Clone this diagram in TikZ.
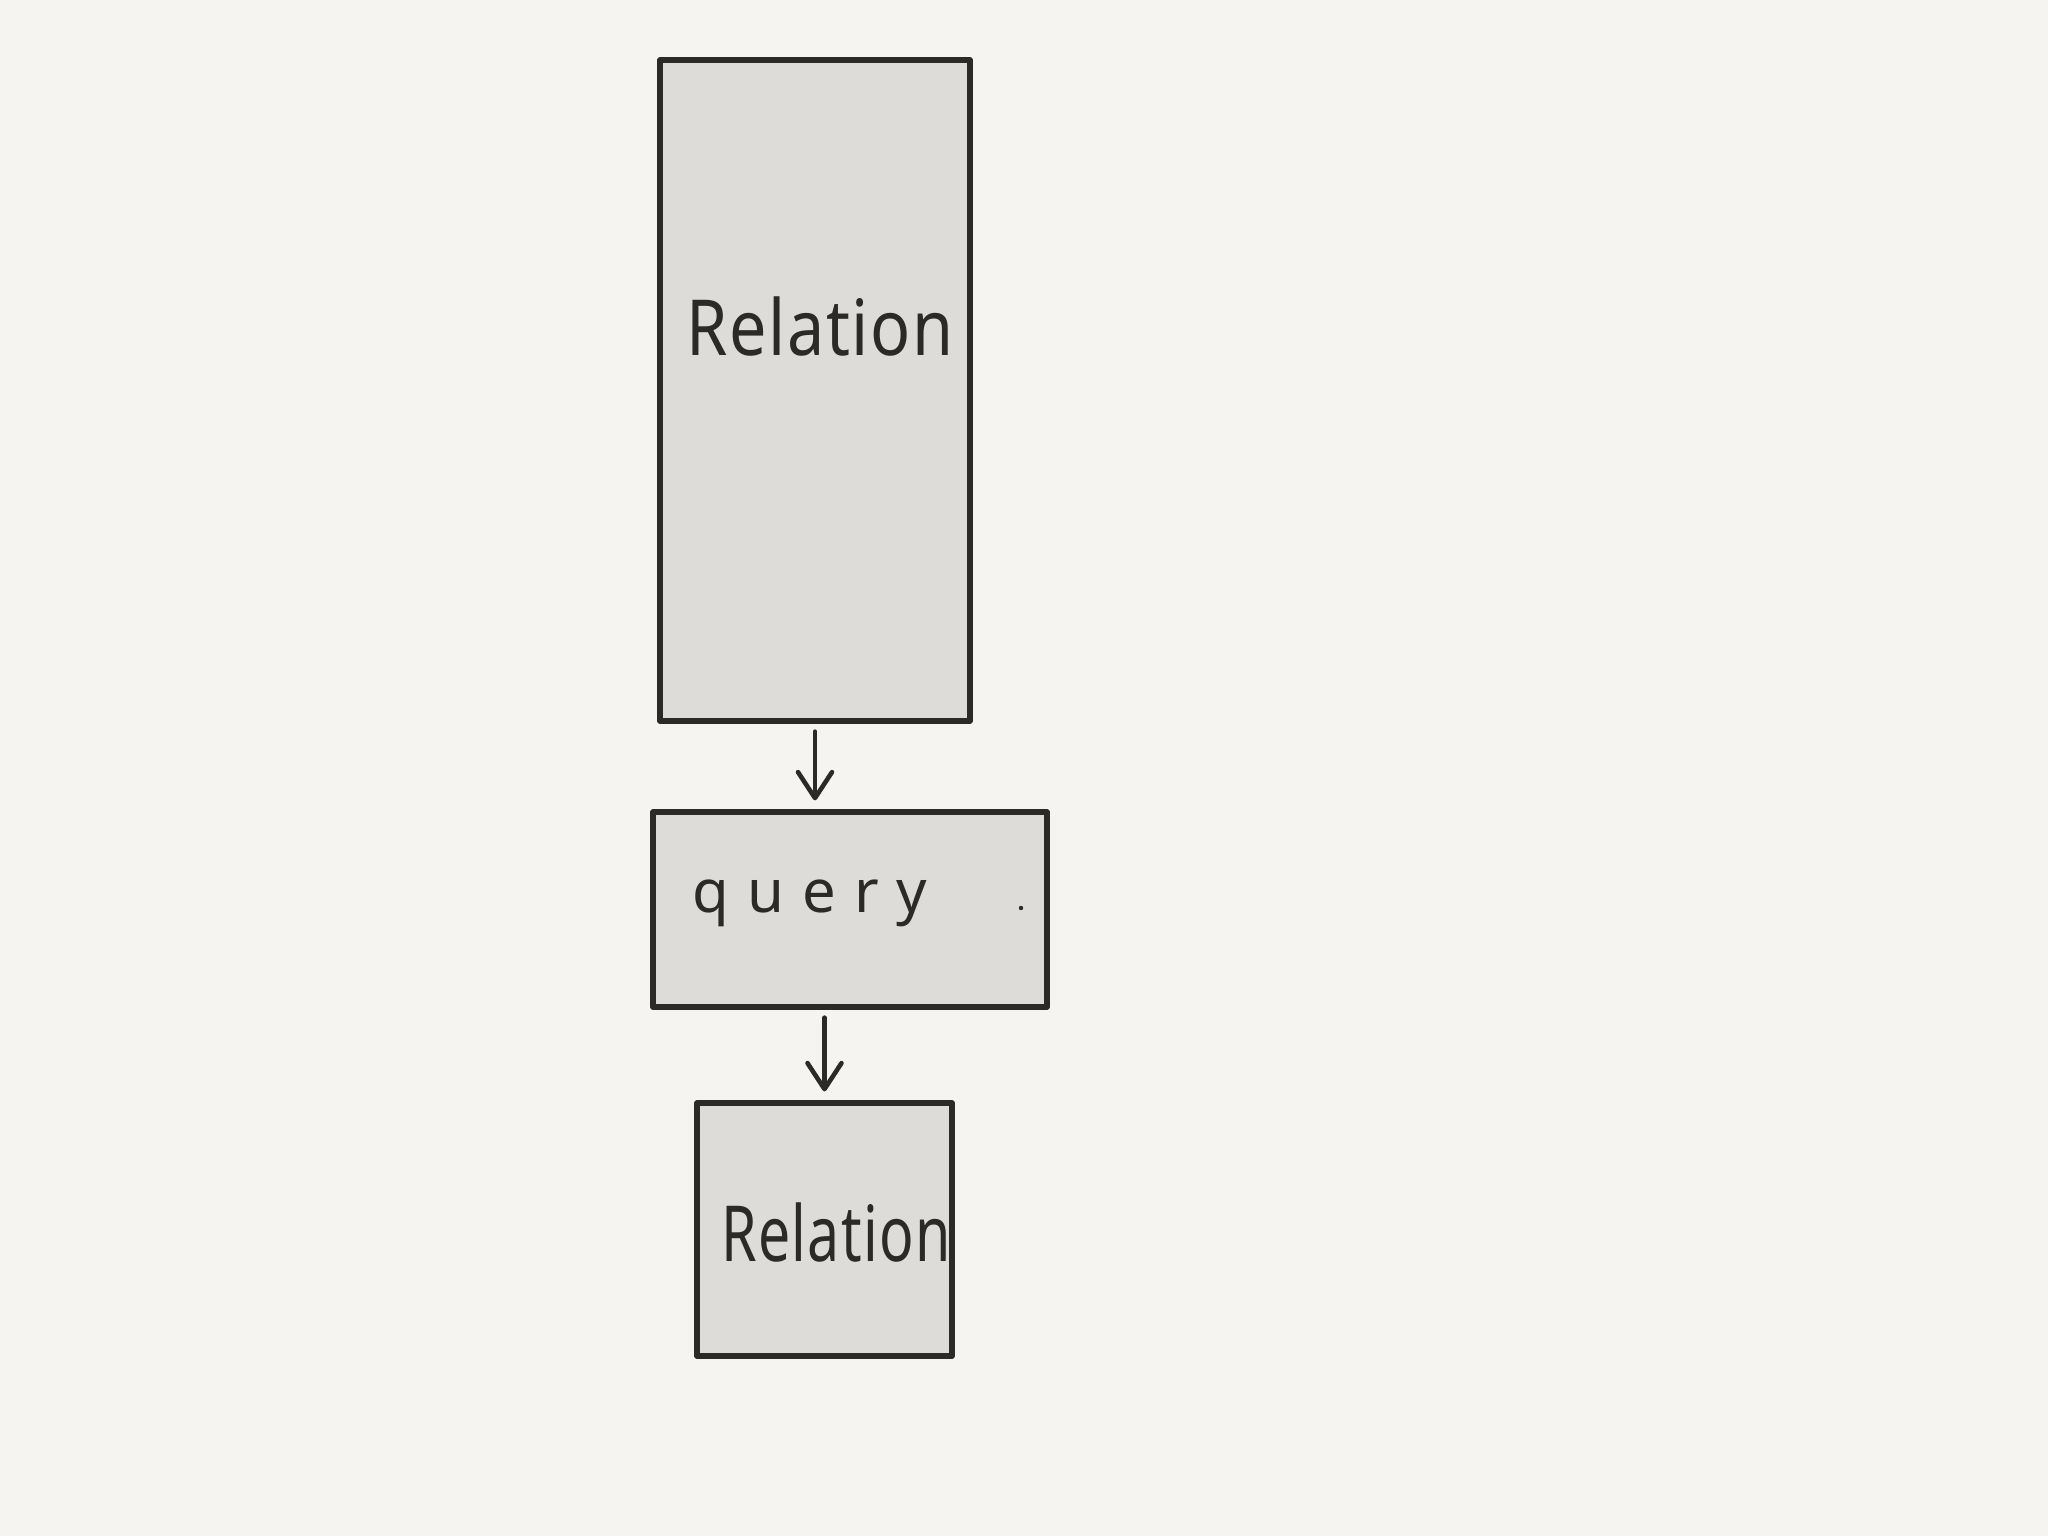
\documentclass[tikz,border=0pt]{standalone}
\usepackage{fontspec}
\setmainfont{Noto Sans}
\usetikzlibrary{arrows.meta}
\definecolor{bg}{HTML}{F5F4F0}
\definecolor{boxfill}{HTML}{DDDCD8}
\definecolor{ink}{HTML}{2B2A28}
\begin{document}
\begin{tikzpicture}[x=0.1mm,y=-0.1mm,
  box/.style={draw=ink, fill=boxfill, line width=1.5pt, line join=round, inner sep=0pt},
  lbl/.style={text=ink, anchor=base, inner sep=0pt, font=\fontsize{22}{26}\selectfont},
  arr/.style={draw=ink, line width=1.3pt, line cap=round, -{Straight Barb[length=2.6mm,width=3.4mm,round]}, shorten <=0.8mm, shorten >=0.9mm}]
\fill[bg] (0,0) rectangle (2048,1536);
\useasboundingbox (0,0) rectangle (2048,1536);
\node[box, minimum width=31mm, minimum height=66.1mm] (r1) at (815,390.5) {};
\node[box, minimum width=39.4mm, minimum height=19.5mm] (q) at (850,909.5) {};
\node[box, minimum width=25.5mm, minimum height=25.3mm] (r2) at (824.5,1229.5) {};
\node[lbl] (t1) at (820,355) {\scalebox{0.86}[1]{R\kern0.5pt e\kern0.5pt l\kern0.5pt a\kern0.5pt t\kern0.5pt i\kern0.5pt o\kern0.5pt n}};
\node[lbl, font=\fontsize{17}{20}\selectfont] (t2) at (810,912) {q\hspace{0.3em}u\hspace{0.3em}e\hspace{0.3em}r\hspace{0.3em}y};
\node[lbl] (t3) at (836,1261) {\scalebox{0.74}[1]{R\kern0.5pt e\kern0.5pt l\kern0.5pt a\kern0.5pt t\kern0.5pt i\kern0.5pt o\kern0.5pt n}};
\fill[ink] (1021,908) circle (2.2);
\draw[arr] (r1.south) -- (q.north -| r1.south);
\draw[arr] (q.south -| r2.north) -- (r2.north);
\end{tikzpicture}
\end{document}
